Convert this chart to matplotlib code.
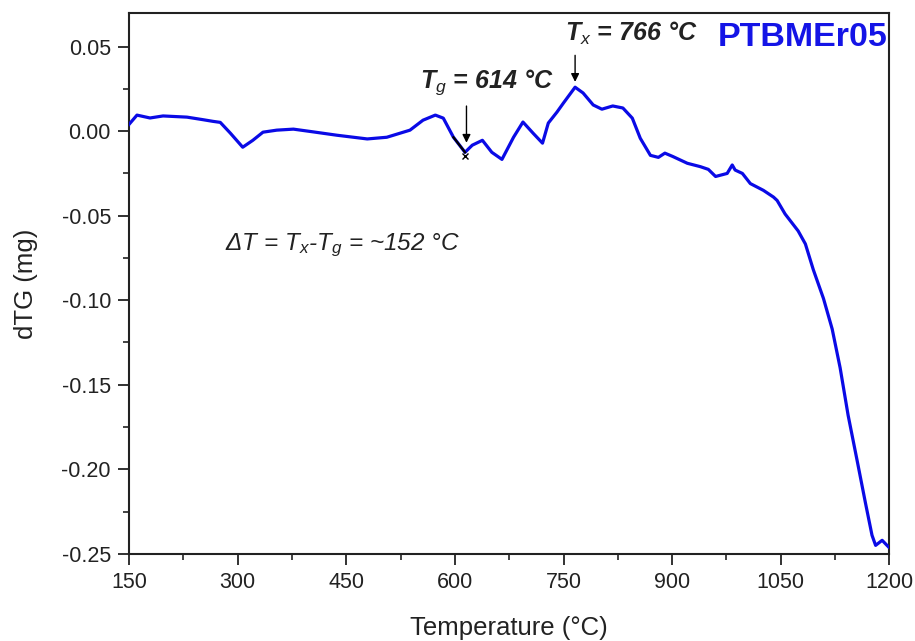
import matplotlib
matplotlib.use("Agg")
import matplotlib.pyplot as plt

# data
temperature = [150, 161, 179, 197, 230, 252, 266, 276, 290, 307, 321, 335, 354, 377,
               404, 437, 479, 506, 538, 556, 573, 584, 598, 614, 624, 638, 651, 665,
               681, 694, 708, 721, 729, 741, 750, 766, 777, 791, 803, 818, 832, 845,
               856, 870, 881, 890, 901, 921, 939, 950, 960, 976, 983, 987, 997, 1008,
               1026, 1040, 1045, 1056, 1074, 1084, 1095, 1109, 1121, 1132, 1143, 1156,
               1167, 1176, 1181, 1190, 1199]
dtg = [0.004, 0.0095, 0.0078, 0.009, 0.0083, 0.0068, 0.0058, 0.0052, -0.0012, -0.0095,
       -0.0054, -0.0006, 0.0006, 0.0012, -0.0004, -0.0024, -0.0046, -0.0036, 0.0006,
       0.0065, 0.0095, 0.0077, -0.0036, -0.0125, -0.0083, -0.0054, -0.0125, -0.0167,
       -0.0036, 0.0054, -0.0012, -0.0071, 0.0048, 0.0113, 0.0167, 0.026, 0.0226, 0.0155,
       0.013, 0.0149, 0.0137, 0.0077, -0.0042, -0.0143, -0.0155, -0.013, -0.015, -0.019,
       -0.021, -0.0226, -0.0268, -0.025, -0.020, -0.023, -0.025, -0.031, -0.035, -0.039,
       -0.041, -0.049, -0.059, -0.0667, -0.082, -0.099, -0.117, -0.140, -0.168, -0.196,
       -0.220, -0.239, -0.245, -0.242, -0.246]

tg = 614
tx = 766
xticks = [150, 300, 450, 600, 750, 900, 1050, 1200]
yticks = [0.05, 0.00, -0.05, -0.10, -0.15, -0.20, -0.25]

plt.rcParams['font.family'] = ['Liberation Sans', 'DejaVu Sans']
plt.rcParams['mathtext.fontset'] = 'custom'
plt.rcParams['mathtext.rm'] = 'Liberation Sans'
plt.rcParams['mathtext.it'] = 'Liberation Sans:italic'
plt.rcParams['mathtext.bf'] = 'Liberation Sans:bold'
plt.rcParams['axes.unicode_minus'] = False

fig = plt.figure(figsize=(9.15, 6.41), dpi=100)
ax = fig.add_axes([0.141, 0.136, 0.831, 0.844])

ax.plot(temperature, dtg, color='#0a0ae6', lw=2.3, zorder=3, solid_joinstyle='round')

# small black tangent piece at Tg
seg_t = [t for t in temperature if 598 <= t <= tg]
seg_v = [v for t, v in zip(temperature, dtg) if 598 <= t <= tg]
ax.plot(seg_t, seg_v, color='k', lw=1.6, zorder=4)
ax.plot([tg], [-0.0148], marker='x', color='k', ms=5, mew=1, zorder=4)

ax.set_xlim(150, 1200)
ax.set_ylim(-0.25, 0.070)
ax.set_xticks(xticks)
ax.set_yticks(yticks)
ax.set_xticks([225, 375, 525, 675, 825, 975, 1125], minor=True)
ax.set_yticks([0.025, -0.025, -0.075, -0.125, -0.175, -0.225], minor=True)
ax.set_yticklabels([f"{v:.2f}" for v in yticks])
ax.tick_params(which='major', direction='out', length=8, width=1.3, labelsize=15.5,
               colors='#222222', pad=5)
ax.tick_params(which='minor', direction='out', length=4.5, width=1.2, colors='#222222')
for s in ax.spines.values():
    s.set_linewidth(1.5)
    s.set_color('#222222')

ax.set_xlabel("Temperature (°C)", fontsize=18.5, labelpad=17, color='#222222')
ax.set_ylabel("dTG (mg)", fontsize=18.5, labelpad=17, color='#222222')

# annotations
ax.annotate("", xy=(tg + 2, -0.0085), xytext=(tg + 2, 0.0165),
            arrowprops=dict(arrowstyle='-|>', color='k', lw=1, mutation_scale=12))
ax.annotate("", xy=(tx, 0.0275), xytext=(tx, 0.0465),
            arrowprops=dict(arrowstyle='-|>', color='k', lw=1, mutation_scale=12))
ax.text(552, 0.0255, r"T$_g$ = 614 °C", fontsize=18, fontweight='bold',
        style='italic', color='#222222')
ax.text(752, 0.0535, r"T$_x$ = 766 °C", fontsize=18, fontweight='bold',
        style='italic', color='#222222')
ax.text(1197, 0.0505, "PTBMEr05", fontsize=24.5, fontweight='bold', color='#1414e6',
        ha='right')
ax.text(283, -0.0705, r"ΔT = T$_x$-T$_g$ = ~152 °C", fontsize=17.5, style='italic',
        color='#222222')

fig.savefig("out.png", dpi=100)
